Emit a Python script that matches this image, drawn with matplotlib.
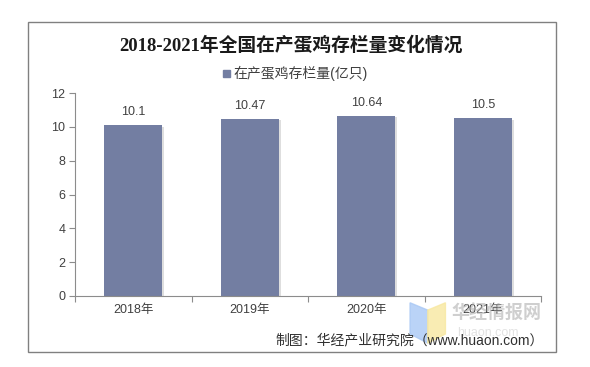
import matplotlib.pyplot as plt
import matplotlib.patheffects as pe
from matplotlib.patches import Rectangle, Polygon

plt.rcParams['font.family'] = ['Liberation Sans', 'Noto Sans CJK SC', 'DejaVu Sans']

# 数据
years = ["2018年", "2019年", "2020年", "2021年"]
stock = [10.1, 10.47, 10.64, 10.5]
value_labels = ["10.1", "10.47", "10.64", "10.5"]

bar_color = "#737ea2"
axis_color = "#8c8c8c"
text_color = "#404040"

fig = plt.figure(figsize=(5.9, 3.67), dpi=100)

# 外框
fig.patches.append(Rectangle(
    (28 / 590, 15 / 367), 528 / 590, 330 / 367,
    transform=fig.transFigure, fill=False,
    edgecolor="#808080", linewidth=1.0
))

ax = fig.add_axes([75 / 590, 1 - 296 / 367, 466 / 590, 203 / 367])

x = range(len(years))
bars = ax.bar(x, stock, width=0.5, color=bar_color, zorder=2,
              label="在产蛋鸡存栏量(亿只)")
for b in bars:
    b.set_path_effects([
        pe.SimplePatchShadow(offset=(1.5, -1), shadow_rgbFace="#c8c8c8", alpha=0.6),
        pe.Normal()
    ])

for xi, v, lab in zip(x, stock, value_labels):
    ax.annotate(lab, (xi, v), xytext=(0, 5), textcoords="offset points",
                ha="center", va="bottom", fontsize=9, color=text_color)

ax.set_xlim(-0.5, 3.5)
ax.set_ylim(0, 12)
ax.set_yticks(range(0, 13, 2))
ax.set_xticks([-0.5, 0.5, 1.5, 2.5, 3.5])
ax.set_xticklabels([])
ax.set_xticks(list(x), minor=True)
ax.set_xticklabels(years, minor=True)
ax.tick_params(axis="x", which="major", length=4, color=axis_color, direction="out")
ax.tick_params(axis="x", which="minor", length=0, pad=6, labelsize=9, labelcolor=text_color)
ax.tick_params(axis="y", length=4, color=axis_color, labelsize=9, labelcolor=text_color, pad=3)

for s in ["top", "right"]:
    ax.spines[s].set_visible(False)
for s in ["left", "bottom"]:
    ax.spines[s].set_color(axis_color)
    ax.spines[s].set_linewidth(0.8)

# 标题和图例
fig.text(291 / 590, 1 - 45 / 367, "2018-2021年全国在产蛋鸡存栏量变化情况",
         ha="center", va="center", fontsize=13.5, fontweight="bold", color="#1a1a1a",
         family=['Liberation Serif', 'Noto Sans CJK SC'])
fig.patches.append(Rectangle(
    (223 / 590, 1 - 77 / 367), 7 / 590, 7 / 367,
    transform=fig.transFigure, color=bar_color
))
fig.text(233 / 590, 1 - 73 / 367, "在产蛋鸡存栏量(亿只)",
         ha="left", va="center", fontsize=10, color=text_color)

# 水印
fig.patches.append(Polygon(
    [(0.695, 0.175), (0.725, 0.155), (0.725, 0.065), (0.695, 0.09)],
    closed=True, transform=fig.transFigure, color="#a9c8f5", alpha=0.8
))
fig.patches.append(Polygon(
    [(0.725, 0.155), (0.755, 0.175), (0.755, 0.09), (0.725, 0.065)],
    closed=True, transform=fig.transFigure, color="#f8e8a0", alpha=0.8
))
fig.text(0.765, 0.145, "华经情报网", fontsize=13, fontweight="bold",
         color="#b0b0b0", alpha=0.6, va="center")
fig.text(0.775, 0.092, "huaon.com", fontsize=9, color="#d0d0d0", alpha=0.6, va="center")

# 来源
fig.text(275 / 590, 1 - 340 / 367, "制图：华经产业研究院（www.huaon.com）",
         ha="left", va="center", fontsize=10, color="#303030")

fig.savefig("out.png", dpi=100)
